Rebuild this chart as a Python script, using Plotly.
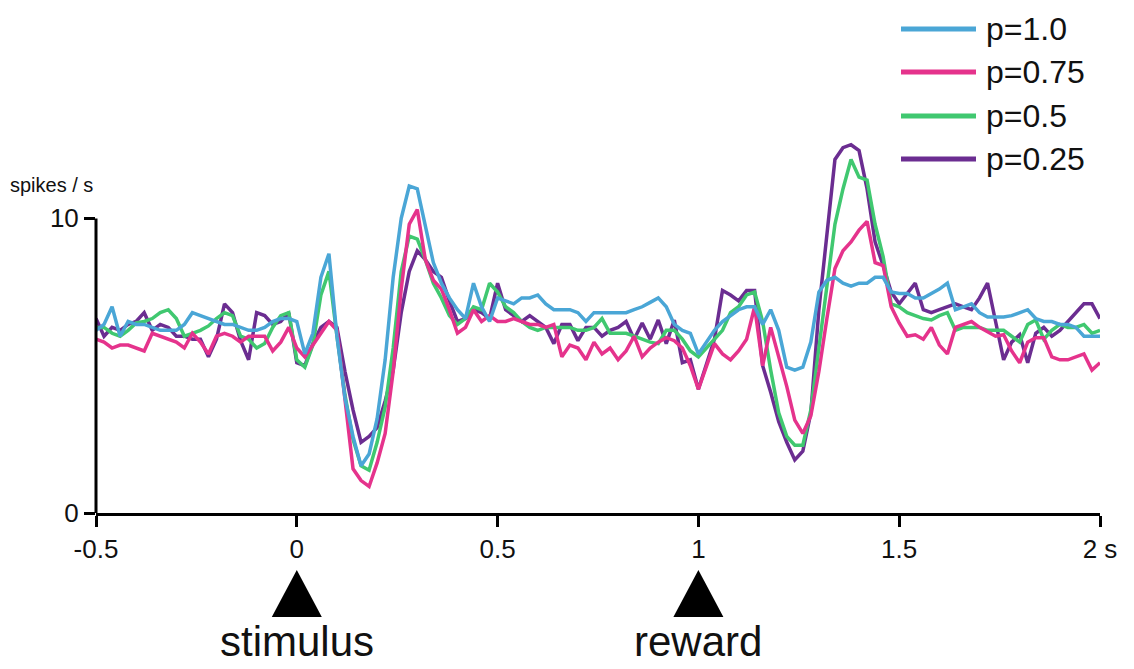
import numpy as np
import plotly.graph_objects as go

# Peri-event firing rate, binned every 20 ms from -0.5 s to 2.0 s
t_start = -0.5
t_step = 0.02

rate_p100 = [
    6.2, 6.4, 7.0, 6.0, 6.5, 6.4, 6.4, 6.3, 6.2, 6.2, 6.2, 6.4, 6.8, 6.7, 6.6, 6.5, 6.4, 6.4, 6.3, 6.2, 6.2, 6.3, 6.5, 6.6, 6.6,
    6.5, 5.4, 6.1, 8.0, 8.8, 6.0, 3.9, 2.6, 1.6, 2.0, 3.2, 5.2, 8.0, 10.0, 11.1, 11.0, 9.7, 8.5, 7.8, 7.3, 6.9, 6.6, 7.8, 7.0, 6.5,
    7.3, 7.2, 7.1, 7.3, 7.3, 7.4, 7.1, 6.9, 6.9, 6.9, 6.8, 6.5, 6.8, 6.8, 6.8, 6.8, 6.8, 6.9, 7.0, 7.15, 7.3, 7.0, 6.4, 6.2, 6.1,
    5.4, 5.8, 6.2, 6.5, 6.7, 6.9, 7.0, 7.0, 6.4, 6.9, 6.2, 4.95, 4.85, 4.95, 5.8, 7.5, 7.9, 8.0, 7.8, 7.7, 7.8, 7.8, 8.0, 8.0, 7.5,
    7.45, 7.45, 7.3, 7.3, 7.45, 7.6, 7.8, 6.9, 7.0, 7.1, 6.8, 6.65, 6.65, 6.65, 6.7, 6.8, 6.9, 6.6, 6.5, 6.5, 6.4, 6.4, 6.3, 6.0, 6.0, 6.0,
]

rate_p075 = [
    5.9, 5.8, 5.6, 5.7, 5.7, 5.6, 5.5, 6.1, 6.0, 5.9, 5.8, 5.6, 6.1, 5.8, 5.4, 6.0, 6.1, 6.0, 5.8, 6.0, 6.0, 6.0, 5.5, 5.8, 6.3,
    5.6, 5.3, 5.7, 6.1, 6.5, 6.2, 3.8, 1.5, 1.1, 0.9, 1.7, 2.7, 4.8, 7.6, 9.8, 10.3, 8.6, 7.9, 7.6, 6.9, 6.1, 6.3, 6.9, 6.5, 6.7,
    6.5, 6.5, 6.6, 6.5, 6.4, 6.4, 6.3, 6.4, 5.3, 5.7, 5.6, 5.2, 5.8, 5.4, 5.6, 5.2, 5.5, 6.0, 5.3, 5.6, 5.8, 5.95, 5.85, 5.6, 5.0,
    4.2, 5.0, 5.75, 5.4, 5.2, 5.5, 5.9, 7.0, 5.0, 6.3, 5.3, 4.3, 3.15, 2.7, 3.3, 4.8, 6.6, 8.3, 8.9, 9.2, 9.6, 9.9, 8.5, 8.4, 7.0,
    6.45, 6.0, 6.05, 5.9, 6.3, 5.7, 5.4, 6.3, 6.4, 6.5, 6.3, 6.15, 6.0, 6.05, 5.5, 5.1, 5.8, 5.95, 5.95, 5.3, 5.2, 5.2, 5.3, 5.4, 4.85, 5.1,
]

rate_p050 = [
    6.3, 6.3, 6.1, 6.0, 6.2, 6.45, 6.5, 6.6, 6.8, 6.9, 6.6, 6.0, 6.1, 6.2, 6.35, 6.6, 6.8, 6.7, 6.0, 5.9, 5.6, 5.75, 6.3, 6.7, 6.8,
    5.2, 4.95, 5.7, 7.4, 8.2, 6.0, 4.0, 2.5, 1.6, 1.45, 2.4, 3.6, 5.6, 8.2, 9.4, 9.3, 8.6, 7.8, 7.3, 6.7, 6.4, 6.6, 7.0, 6.9, 7.8,
    7.5, 7.0, 6.8, 6.5, 6.3, 6.2, 6.3, 6.3, 6.3, 6.3, 6.2, 6.2, 6.3, 6.6, 6.1, 6.1, 6.1, 6.0, 5.9, 5.8, 5.75, 6.2, 6.2, 5.9, 5.5,
    5.3, 5.6, 5.9, 6.2, 6.8, 7.0, 7.4, 7.5, 6.5, 4.85, 3.4, 2.6, 2.3, 2.3, 3.5, 5.6, 7.7, 9.8, 11.0, 12.0, 11.4, 11.3, 9.8, 8.7, 7.1,
    7.0, 6.8, 6.7, 6.6, 6.55, 6.7, 6.8, 6.2, 6.3, 6.3, 6.3, 6.2, 6.2, 6.2, 6.0, 5.8, 6.4, 6.55, 5.9, 6.2, 6.4, 6.3, 6.3, 6.4, 6.1, 6.2,
]

rate_p025 = [
    6.6, 6.0, 6.3, 6.2, 6.4, 6.5, 6.8, 6.2, 6.4, 6.3, 6.0, 6.0, 5.9, 5.9, 5.3, 5.9, 7.1, 6.8, 5.85, 5.2, 6.8, 6.7, 6.4, 6.5, 6.8,
    5.1, 5.0, 5.75, 6.3, 6.5, 6.3, 4.8, 3.5, 2.4, 2.6, 2.9, 3.8, 4.85, 6.8, 8.2, 8.9, 8.6, 8.2, 8.0, 7.2, 6.5, 6.6, 6.9, 6.8, 6.6,
    7.8, 6.9, 6.7, 6.5, 6.7, 6.5, 6.3, 5.75, 6.4, 6.4, 5.85, 6.3, 6.3, 6.0, 6.2, 6.3, 6.5, 5.9, 6.45, 5.9, 6.55, 5.75, 6.55, 5.1, 5.2,
    4.2, 5.1, 5.9, 7.55, 7.4, 7.2, 7.55, 7.55, 5.0, 4.1, 3.1, 2.4, 1.8, 2.1, 3.4, 6.9, 9.5, 12.0, 12.4, 12.5, 12.3, 11.0, 9.2, 8.4, 7.5,
    7.1, 7.45, 7.8, 6.9, 6.8, 6.9, 7.0, 7.1, 7.0, 6.9, 7.3, 7.8, 6.5, 5.2, 5.8, 6.05, 5.1, 6.1, 6.3, 6.0, 6.2, 6.5, 6.8, 7.1, 7.1, 6.6,
]

series_names = ["p=1.0", "p=0.75", "p=0.5", "p=0.25"]
series_rates = [rate_p100, rate_p075, rate_p050, rate_p025]
series_colors = ["#4AA6D6", "#E5338C", "#40C870", "#6B2D91"]

x_tick_vals = [-0.5, 0, 0.5, 1, 1.5, 2]
x_tick_text = ["-0.5", "0", "0.5", "1", "1.5", "2 s"]
y_tick_vals = [0, 10]
y_tick_text = ["0", "10"]

event_times = [0, 1]
event_labels = ["stimulus", "reward"]

FONT = "Liberation Sans, Arial, sans-serif"
W, H = 1134, 669
M_L, M_R, M_T, M_B = 96, 34, 130, 156
X_RANGE = [-0.5, 2.0]
Y_RANGE = [0, 13]
plot_w = W - M_L - M_R
plot_h = H - M_T - M_B


def px_to_paper_y(py):
    # screen pixel row -> paper coordinate
    return (H - M_B - py) / plot_h


def px_to_paper_x(px):
    return (px - M_L) / plot_w


fig = go.Figure()

# draw lowest probability first so p=1.0 sits on top
for name, rates, color in reversed(list(zip(series_names, series_rates, series_colors))):
    t = t_start + t_step * np.arange(len(rates))
    fig.add_trace(go.Scatter(
        x=t, y=rates, mode="lines", name=name,
        line=dict(color=color, width=3.5), showlegend=False,
        hoverinfo="skip",
    ))

shapes = []
annotations = []

# y axis line spans only the labelled range
shapes.append(dict(type="line", xref="paper", yref="y", x0=0, x1=0,
                   y0=y_tick_vals[0], y1=y_tick_vals[-1],
                   line=dict(color="black", width=3)))

# event markers below the time axis
half_w = 25 * (X_RANGE[1] - X_RANGE[0]) / plot_w
tri_base = px_to_paper_y(617)
tri_top = px_to_paper_y(570)
for et, lab in zip(event_times, event_labels):
    shapes.append(dict(
        type="path", xref="x", yref="paper",
        path=f"M {et - half_w},{tri_base} L {et + half_w},{tri_base} L {et},{tri_top} Z",
        fillcolor="black", line=dict(color="black", width=0),
    ))
    annotations.append(dict(
        x=et, y=px_to_paper_y(667), xref="x", yref="paper",
        text=lab, showarrow=False, xanchor="center", yanchor="bottom",
        font=dict(family=FONT, size=42, color="#111111"),
    ))

# legend drawn as long line swatches with labels
legend_rows = [29, 72, 116, 159]
for name, color, row in zip(series_names, series_colors, legend_rows):
    yy = px_to_paper_y(row)
    shapes.append(dict(type="line", xref="paper", yref="paper",
                       x0=px_to_paper_x(901), x1=px_to_paper_x(976), y0=yy, y1=yy,
                       line=dict(color=color, width=5)))
    annotations.append(dict(
        x=px_to_paper_x(984), y=yy, xref="paper", yref="paper",
        text=name, showarrow=False, xanchor="left", yanchor="middle",
        font=dict(family=FONT, size=32, color="#111111"),
    ))

# unit label above the y axis
annotations.append(dict(
    x=px_to_paper_x(8), y=px_to_paper_y(185), xref="paper", yref="paper",
    text="spikes / s", showarrow=False, xanchor="left", yanchor="middle",
    font=dict(family=FONT, size=20, color="#111111"),
))

fig.update_layout(
    width=W, height=H,
    margin=dict(l=M_L, r=M_R, t=M_T, b=M_B, pad=0),
    paper_bgcolor="white", plot_bgcolor="white",
    shapes=shapes, annotations=annotations,
    font=dict(family=FONT, color="#111111"),
    xaxis=dict(
        range=X_RANGE, showgrid=False, zeroline=False,
        showline=True, linecolor="black", linewidth=3,
        ticks="outside", ticklen=11, tickwidth=3, tickcolor="black",
        tickvals=x_tick_vals, ticktext=x_tick_text,
        tickfont=dict(family=FONT, size=26, color="#111111"),
        fixedrange=True,
    ),
    yaxis=dict(
        range=Y_RANGE, showgrid=False, zeroline=False, showline=False,
        ticks="outside", ticklen=11, tickwidth=3, tickcolor="black",
        tickvals=y_tick_vals, ticktext=y_tick_text,
        tickfont=dict(family=FONT, size=26, color="#111111"),
        fixedrange=True,
    ),
)

fig.write_html("out.html")
